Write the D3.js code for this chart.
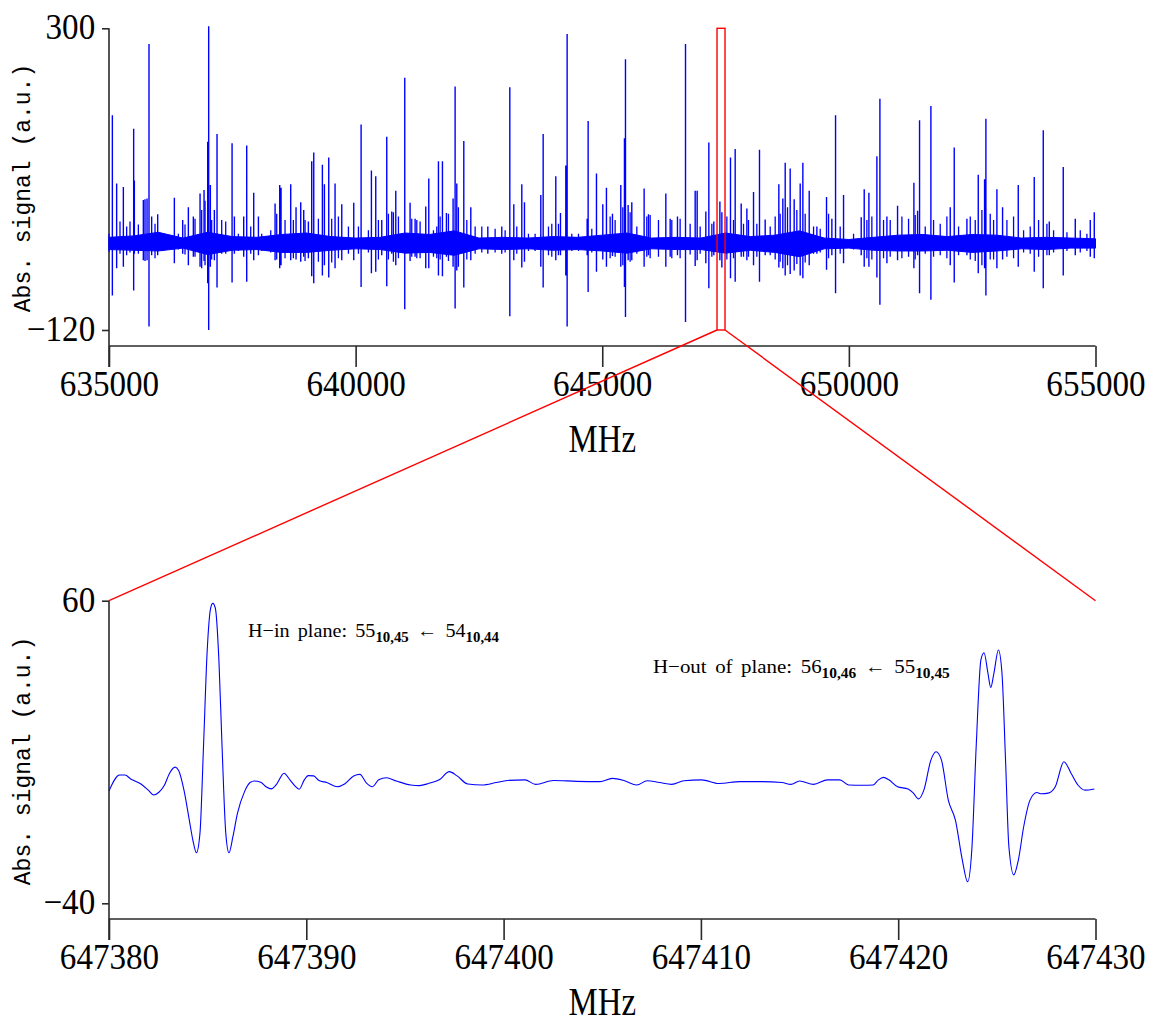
<!DOCTYPE html>
<html><head><meta charset="utf-8">
<script src="https://cdn.jsdelivr.net/npm/d3@7"></script>
<style>body{margin:0;background:#fff} svg{display:block}</style>
</head><body>
<svg id="c" width="1149" height="1025"></svg>
<script>
// ---------- DATA ----------
// overview spectrum: strong lines [MHz, max, min]
const overviewLines = [
[635068,179,-72],[635155,84,-34],[635291,79,-32],[635500,160,-65],[635514,88,-14],[635696,61,-23],
[635730,62,-24],[635771,63,-23],[635811,278,-115],[635865,38,-16],[635987,41,-16],[636325,64,-27],
[636494,33,-14],[636609,51,-30],[636710,38,-18],[636846,70,-32],[636927,75,-24],[637001,142,-55],
[637021,303,-120],[637055,82,-32],[637136,47,-23],[637190,153,-61],[637495,140,-54],[637542,38,-14],
[637731,38,-18],[637792,137,-53],[637934,71,-23],[638029,38,-16],[638367,56,-23],[638461,82,-34],
[638488,78,-30],[638684,83,-23],[638792,51,-22],[638887,58,-25],[638948,47,-18],[639042,31,-20],
[639110,115,-45],[639151,127,-55],[639326,110,-44],[639367,83,-30],[639455,120,-47],[639583,84,-34],
[639719,55,-23],[639962,57,-23],[640111,166,-60],[640320,102,-41],[640408,94,-39],[640530,33,-16],
[640631,149,-59],[640733,45,-14],[640814,74,-30],[640996,231,-91],[641104,57,-24],[641206,35,-18],
[641422,52,-34],[641483,91,-34],[641679,115,-44],[641760,115,-45],[641841,43,-18],[641976,63,-32],
[642017,219,-90],[642051,84,-37],[642193,143,-61],[642335,51,-23],[642680,24,-14],[642963,24,-14],
[643126,218,-101],[643207,55,-23],[643369,83,-33],[643423,58,-25],[643754,68,-32],[643802,153,-61],
[644058,94,-23],[644153,43,-16],[644261,109,-44],[644288,292,-115],[644694,35,-16],[644714,171,-67],
[644883,98,-39],[645011,55,-22],[645085,78,-32],[645207,42,-17],[645376,82,-32],[645450,147,-60],
[645471,257,-102],[645525,54,-23],[645599,58,-23],[645849,77,-32],[645937,41,-16],[646289,70,-32],
[646377,35,-18],[646525,38,-16],[646688,278,-109],[646884,74,-31],[646924,74,-23],[647100,45,-27],
[647161,141,-62],[647262,31,-16],[647385,59,-23],[647425,44,-33],[647600,120,-48],[647695,132,-53],
[647817,56,-18],[647932,49,-23],[648067,72,-30],[648188,131,-53],[648303,34,-16],[648580,83,-33],
[648661,63,-34],[648709,113,-44],[648810,105,-42],[648891,62,-37],[649013,84,-44],[649067,113,-48],
[649196,74,-30],[649351,24,-14],[649547,65,-36],[649655,35,-16],[649730,179,-69],[649892,68,-27],
[650250,37,-16],[650311,76,-32],[650406,71,-32],[650568,122,-47],[650629,202,-85],[650771,38,-27],
[650987,53,-23],[651318,85,-34],[651393,46,-16],[651433,172,-69],[651663,192,-78],[652055,51,-30],
[652136,134,-54],[652393,35,-16],[652623,96,-41],[652751,90,-34],[652778,174,-72],[653001,76,-34],
[653116,51,-22],[653434,82,-32],[653758,93,-39],[653941,158,-62],[654063,31,-16],[654346,107,-44],
[654590,35,-16],[654894,33,-18],[654975,44,-20]
];
// overview spectrum: weaker lines [MHz, max, min]
const weakLines = [
[635000,14,-11],[635223,31,-14],[635358,24,-16],[635426,31,-12],[635595,27,-14],[635933,28,-20],
[636102,14,-10],[636406,14,-8],[636541,27,-15],[636744,35,-18],[636879,47,-34],[636947,60,-30],
[637082,33,-22],[637285,33,-14],[637366,31,-14],[637623,14,-10],[637873,24,-14],[638096,14,-10],
[638279,19,-12],[638400,42,-22],[638569,33,-20],[638738,33,-20],[638975,33,-24],[639245,35,-25],
[639515,35,-26],[639651,38,-20],[639854,24,-14],[640057,24,-14],[640259,19,-12],[640462,33,-22],
[640665,42,-22],[640766,44,-25],[640868,38,-20],[641138,35,-18],[641240,33,-20],[641307,31,-20],
[641578,19,-18],[641645,24,-20],[641713,38,-22],[641882,42,-24],[642084,51,-32],[642254,33,-22],
[642423,24,-14],[642558,24,-12],[642828,21,-12],[643031,19,-12],[643267,24,-14],[643504,14,-10],
[643639,14,-10],[643910,24,-16],[643977,28,-18],[644112,28,-16],[644383,14,-10],[644518,14,-10],
[644788,21,-12],[645160,38,-20],[645261,33,-18],[645417,51,-30],[645565,44,-25],[645701,24,-14],
[645903,38,-18],[645971,40,-20],[646140,33,-18],[646410,33,-20],[646579,35,-20],[646782,28,-15],
[646985,24,-14],[647222,28,-18],[647526,38,-22],[647661,33,-20],[647864,28,-18],[647965,33,-18],
[648134,28,-18],[648405,24,-16],[648506,38,-22],[648607,42,-25],[648756,51,-30],[648945,47,-28],
[649114,42,-26],[649284,24,-14],[649419,21,-12],[649588,42,-20],[649824,24,-14],[650095,14,-8],
[650365,33,-20],[650466,38,-22],[650703,33,-20],[650838,33,-18],[651075,38,-20],[651210,35,-18],
[651345,40,-22],[651548,24,-14],[651717,33,-18],[651852,28,-16],[651987,38,-20],[652224,24,-16],
[652461,38,-22],[652562,33,-24],[652697,47,-30],[652866,42,-22],[652934,33,-22],[653204,33,-18],
[653339,38,-20],[653542,19,-12],[653677,24,-14],[653846,33,-18],[654015,28,-16],[654150,19,-12],
[654421,16,-10],[654691,19,-12],[654826,14,-10]
];
// overview noise band envelope
const noiseFreq  = [635000,635500,636000,636500,637000,637500,638000,638500,639000,639500,640000,
  640500,641000,641500,642000,642500,643000,643500,644000,644500,645000,645500,646000,646500,647000,
  647500,648000,648500,649000,649500,650000,650500,651000,651500,652000,652500,653000,653500,654000,
  654500,655000];
const noiseUpper = [9,11,16,8,16,10,9,13,15,10,8,9,15,13,18,8,9,8,10,9,12,15,8,9,8,15,10,12,18,8,6,
  9,12,13,10,13,12,8,9,8,7];
const noiseLower = [-8,-9,-10,-6,-15,-9,-8,-12,-12,-9,-7,-8,-13,-12,-16,-7,-8,-7,-9,-8,-10,-13,-7,-8,
  -8,-13,-9,-12,-18,-7,-6,-9,-10,-10,-9,-12,-10,-7,-8,-6,-6];
// zoomed region
const zoomBox = [647327, 647489];
const zoomFreq = [647380,647380.54,647380.81,647381.1,647381.62,647381.99,647382.26,647382.53,647382.8,
 647383.07,647383.35,647383.53,647383.8,647384.07,647384.25,647384.43,647384.61,647384.79,647384.97,
 647385.15,647385.26,647385.39,647385.57,647385.73,647385.92,647386.08,647386.28,647386.51,647386.87,
 647387.15,647387.36,647387.69,647387.96,647388.23,647388.5,647388.87,647389.17,647389.41,647389.64,
 647389.9,647390.1,647390.37,647390.64,647391.04,647391.58,647391.94,647392.4,647392.72,647393.03,
 647393.34,647393.67,647394.06,647394.57,647395.29,647395.74,647396.2,647396.74,647397.25,647397.64,
 647398.19,647398.91,647399.63,647400.18,647401.08,647401.63,647402.53,647403.7,647404.89,647405.51,
 647406.13,647406.75,647407.28,647407.9,647408.52,647409.14,647410.03,647410.92,647411.98,647413.05,
 647414.11,647414.56,647415.0,647415.71,647416.42,647417.04,647417.49,647418.2,647418.73,647419.0,
 647419.26,647419.53,647419.97,647420.5,647420.77,647421.03,647421.3,647421.66,647421.92,647422.19,
 647422.54,647422.9,647423.25,647423.52,647423.73,647423.96,647424.19,647424.35,647424.55,647424.69,
 647424.85,647425.08,647425.26,647425.44,647425.61,647425.86,647426.09,647426.36,647426.68,647427.03,
 647427.25,647427.6,647427.96,647428.4,647428.76,647429.11,647429.47,647429.94];
const zoomSignal = [-2.9,2.4,2.4,1.1,-0.6,-2.6,-4.2,-3.3,-1.1,3.0,5.0,3.9,-2.6,-12.5,-19.1,-23.3,-16.9,
 11.8,42.6,57.5,59.1,57.5,40.4,11.8,-16.9,-23.3,-18,-10.3,-3.1,-0.1,0.4,0,-1.5,-2.2,-0.6,3.0,0.8,-1.1,
 -2.3,0.8,2.2,2.1,0.6,-0.1,-1.5,-0.6,2.1,2.6,-0.1,-1.5,0.8,1.5,0.4,-0.9,-1.1,-0.4,0.8,3.5,2.1,-0.6,
 -0.9,-0.1,0.6,0.8,-0.7,0.6,0.3,0.2,1.3,0.5,-0.9,0.5,-0.1,-0.7,0.5,0.8,-0.4,0.2,0.2,-0.1,-0.7,0.4,
 -0.7,0.8,0.8,-0.9,-1.0,-0.9,0.8,1.6,0.8,-1.5,-2.2,-3.6,-5.5,-2.6,7.4,10.1,7.4,-5.9,-12.5,-25.7,
 -32.9,-22.4,12.9,40.4,42.8,36.0,31.3,36.0,43.7,36,7.4,-21.3,-30.6,-25.7,-14.7,-5.9,-3.4,-3.8,-3.6,
 -1.5,6.8,3.0,-0.9,-2.6,-2.2];
const topXTicks = [635000,640000,645000,650000,655000];
const topYTicks = [-120,300];
const botXTicks = [647380,647390,647400,647410,647420,647430];
const botYTicks = [-40,60];
const yTitle = "Abs. signal (a.u.)";
const xTitle = "MHz";
const ann1 = [["H\u2212in plane: 55",0],["10,45",1],[" \u2190 54",0],["10,44",1]];
const ann2 = [["H\u2212out of plane: 56",0],["10,46",1],[" \u2190 55",0],["10,45",1]];

// ---------- DRAWING ----------
const svg = d3.select("#c");
const L = 109, R = 1095.5;
const xTop = d3.scaleLinear().domain([635000,655000]).range([L,R]);
const yTop = d3.scaleLinear().domain([-120,300]).range([330,28.3]);
const xBot = d3.scaleLinear().domain([647380,647430]).range([L,R]);
const yBot = d3.scaleLinear().domain([-40,60]).range([903.3,600.7]);
const AX = "#2a2a2a", BLUE = "#0000ff";
const SERIF = "'Liberation Serif', serif";

function panel(x, y, xAxisY, yTopPix, xt, yt, titleBase, yTitleMid) {
  svg.append("line").attr("x1",L).attr("x2",L).attr("y1",yTopPix).attr("y2",xAxisY+21)
     .attr("stroke",AX).attr("stroke-width",1.6);
  svg.append("line").attr("x1",L).attr("x2",R).attr("y1",xAxisY).attr("y2",xAxisY)
     .attr("stroke",AX).attr("stroke-width",1.6);
  const gx = svg.append("g").attr("transform",`translate(0,${xAxisY})`)
     .call(d3.axisBottom(x).tickValues(xt).tickSize(21).tickSizeOuter(0).tickFormat(d3.format("d")));
  gx.select(".domain").remove();
  gx.selectAll("line").attr("stroke",AX).attr("stroke-width",1.6);
  gx.selectAll("text").attr("y",50).attr("dy",null).attr("font-family",SERIF)
     .attr("font-size",36).attr("fill","#000").attr("transform","scale(0.92,1)");
  const gy = svg.append("g").attr("transform",`translate(${L},0)`)
     .call(d3.axisLeft(y).tickValues(yt).tickSize(7).tickSizeOuter(0));
  gy.select(".domain").remove();
  gy.selectAll("line").attr("stroke",AX).attr("stroke-width",1.6);
  gy.selectAll("text").attr("x",-15).attr("dy",null).attr("y",10.5).attr("font-family",SERIF)
     .attr("font-size",36).attr("fill","#000").attr("transform","scale(0.92,1)");
  svg.append("text").attr("transform",`translate(${(L+R)/2},${titleBase}) scale(0.8,1)`)
     .attr("text-anchor","middle").attr("font-family",SERIF).attr("font-size",41).text(xTitle);
  svg.append("text").attr("transform",`translate(30,${yTitleMid}) rotate(-90)`)
     .attr("text-anchor","middle").attr("font-family","'Liberation Mono', monospace")
     .attr("font-size",23).attr("fill","#000").text(yTitle);
}

panel(xTop, yTop, 346, 28.3, topXTicks, topYTicks, 452, 188);
panel(xBot, yBot, 919, 600.7, botXTicks, botYTicks, 1015, 761);

// top spectrum: noise band
const band = noiseFreq.map((f,i)=>({f, u:noiseUpper[i], l:noiseLower[i]}));
svg.append("path").datum(band)
  .attr("d", d3.area().x(d=>xTop(d.f)).y0(d=>yTop(d.l)).y1(d=>yTop(d.u)))
  .attr("fill",BLUE).attr("stroke",BLUE).attr("stroke-width",1);
// top spectrum: lines
function linesPath(arr){
  const p = d3.path();
  arr.forEach(([f,mx,mn])=>{ p.moveTo(xTop(f), yTop(mx)); p.lineTo(xTop(f), yTop(mn)); });
  return p.toString();
}
svg.append("path").attr("d",linesPath(weakLines)).attr("stroke",BLUE).attr("stroke-width",1.3).attr("fill","none");
svg.append("path").attr("d",linesPath(overviewLines)).attr("stroke",BLUE).attr("stroke-width",1.4).attr("fill","none");

// zoom box + connectors
svg.append("rect").attr("x",xTop(zoomBox[0])).attr("y",yTop(300))
  .attr("width",xTop(zoomBox[1])-xTop(zoomBox[0])).attr("height",yTop(-120)-yTop(300))
  .attr("fill","none").attr("stroke","#ff0000").attr("stroke-width",1.4);
svg.append("line").attr("x1",xTop(zoomBox[0])).attr("y1",yTop(-120))
  .attr("x2",xBot(647380)).attr("y2",yBot(60)).attr("stroke","#ff0000").attr("stroke-width",1.4);
svg.append("line").attr("x1",xTop(zoomBox[1])).attr("y1",yTop(-120))
  .attr("x2",xBot(647430)).attr("y2",yBot(60)).attr("stroke","#ff0000").attr("stroke-width",1.4);

// bottom trace
const zd = zoomFreq.map((f,i)=>[f, zoomSignal[i]]);
svg.append("path").datum(zd)
  .attr("d", d3.line().x(d=>xBot(d[0])).y(d=>yBot(d[1])).curve(d3.curveMonotoneX))
  .attr("fill","none").attr("stroke",BLUE).attr("stroke-width",1.1);

// annotations
function annotate(parts, x0, y0, targetW) {
  const t = svg.append("text").attr("transform",`translate(${x0},${y0})`)
     .attr("font-family",SERIF).attr("font-size",19).attr("fill","#000").style("word-spacing","3px");
  let shifted = false;
  parts.forEach(([s,sub])=>{
    const ts = t.append("tspan").text(s);
    if (sub) { ts.attr("font-size",14).attr("font-weight","bold").attr("dy",5); shifted=true; }
    else if (shifted) { ts.attr("dy",-5); shifted=false; }
  });
  const w = t.node().getBBox().width;
  t.attr("transform",`translate(${x0},${y0}) scale(${targetW/w},1)`);
}
annotate(ann1, 248, 637, 251);
annotate(ann2, 653, 673, 297);
</script>
</body></html>
